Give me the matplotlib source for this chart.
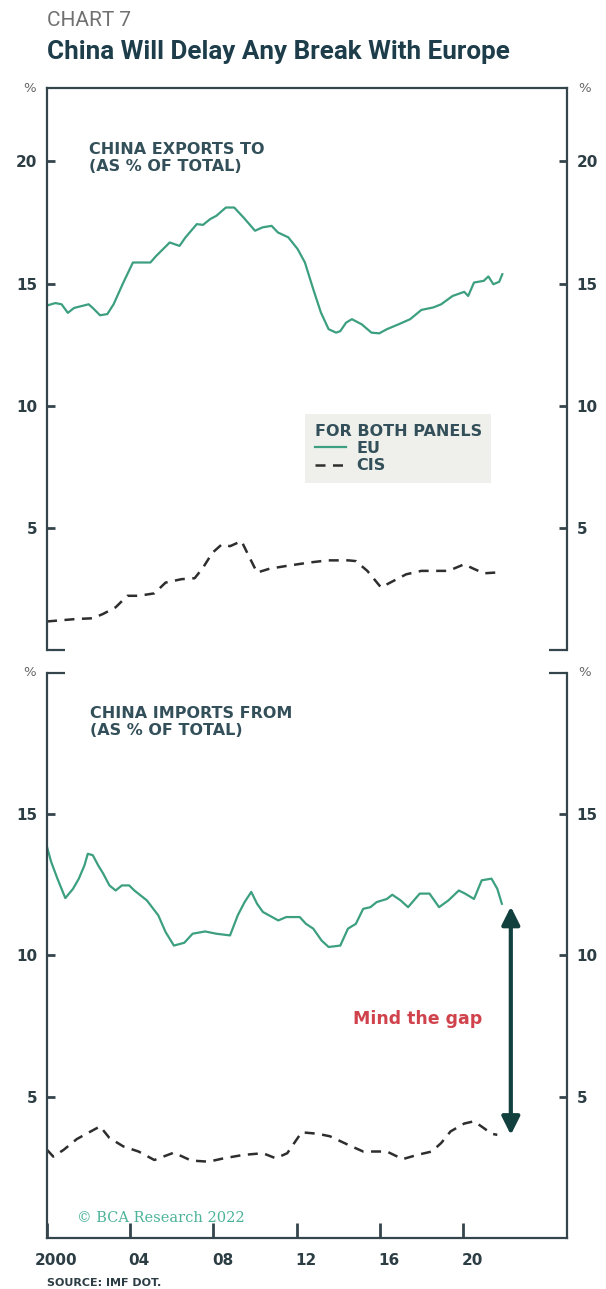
import matplotlib.pyplot as plt
from matplotlib.transforms import ScaledTranslation

# china exports to EU / CIS, % of total
exp_eu_year = [2000.0, 2000.4, 2000.7, 2001.0, 2001.3, 2002.0, 2002.2, 2002.55, 2002.9, 2003.2,
               2003.67, 2004.13, 2004.4, 2004.97, 2005.25, 2005.9, 2006.37, 2006.65, 2007.2, 2007.5,
               2007.85, 2008.14, 2008.6, 2009.0, 2009.45, 2010.0, 2010.37, 2010.8, 2011.1, 2011.6,
               2012.05, 2012.4, 2012.8, 2013.17, 2013.54, 2013.9, 2014.1, 2014.38, 2014.66, 2015.13,
               2015.6, 2015.97, 2016.34, 2016.9, 2017.46, 2018.0, 2018.57, 2018.95, 2019.5, 2020.06,
               2020.25, 2020.53, 2021.0, 2021.22, 2021.46, 2021.74, 2021.89]
exp_eu = [14.1, 14.2, 14.15, 13.8, 14.0, 14.15, 14.0, 13.7, 13.75, 14.15,
          15.04, 15.86, 15.86, 15.86, 16.13, 16.68, 16.54, 16.88, 17.43, 17.4,
          17.64, 17.77, 18.11, 18.11, 17.7, 17.16, 17.3, 17.36, 17.09, 16.89,
          16.41, 15.86, 14.77, 13.81, 13.13, 12.99, 13.05, 13.4, 13.54, 13.33,
          12.99, 12.96, 13.13, 13.33, 13.54, 13.92, 14.02, 14.15, 14.49, 14.66,
          14.49, 15.04, 15.11, 15.29, 14.97, 15.07, 15.38]

exp_cis_year = [2000.0, 2001.4, 2002.2, 2002.7, 2003.3, 2003.86, 2004.4, 2005.16, 2005.7, 2006.46,
                2007.1, 2007.5, 2007.95, 2008.4, 2008.8, 2009.35, 2009.7, 2010.1, 2010.7, 2011.5,
                2012.6, 2013.5, 2014.5, 2014.85, 2015.4, 2016.06, 2016.5, 2017.27, 2018.0, 2019.3,
                2020.06, 2020.4, 2021.0, 2021.55]
exp_cis = [1.17, 1.27, 1.3, 1.48, 1.75, 2.22, 2.22, 2.32, 2.76, 2.9,
           2.94, 3.37, 3.98, 4.32, 4.25, 4.46, 3.85, 3.17, 3.33, 3.44,
           3.58, 3.67, 3.67, 3.64, 3.24, 2.56, 2.76, 3.1, 3.24, 3.24,
           3.51, 3.37, 3.14, 3.17]

# china imports from EU / CIS, % of total
imp_eu_year = [2000.0, 2000.2, 2000.5, 2000.88, 2001.25, 2001.53, 2001.8, 2001.96, 2002.2, 2002.46,
               2002.7, 2003.0, 2003.3, 2003.6, 2003.95, 2004.2, 2004.8, 2005.35, 2005.7, 2006.1,
               2006.6, 2007.0, 2007.6, 2008.14, 2008.8, 2009.17, 2009.5, 2009.82, 2010.1, 2010.38,
               2011.12, 2011.5, 2012.15, 2012.45, 2012.8, 2013.2, 2013.54, 2014.1, 2014.47, 2014.85,
               2015.2, 2015.55, 2015.85, 2016.34, 2016.6, 2017.0, 2017.36, 2017.92, 2018.39, 2018.85,
               2019.3, 2019.8, 2020.1, 2020.53, 2020.9, 2021.37, 2021.65, 2021.87]
imp_eu = [13.84, 13.31, 12.72, 12.03, 12.36, 12.72, 13.19, 13.6, 13.55, 13.19,
          12.9, 12.48, 12.3, 12.48, 12.48, 12.3, 11.95, 11.42, 10.83, 10.35,
          10.45, 10.77, 10.85, 10.77, 10.71, 11.42, 11.89, 12.25, 11.83, 11.54,
          11.24, 11.36, 11.36, 11.12, 10.95, 10.53, 10.3, 10.35, 10.95, 11.12,
          11.65, 11.71, 11.89, 12.0, 12.15, 11.95, 11.71, 12.19, 12.19, 11.71,
          11.95, 12.3, 12.19, 12.0, 12.66, 12.72, 12.36, 11.83]

imp_cis_year = [2000.0, 2000.3, 2000.8, 2001.43, 2002.1, 2002.55, 2003.0, 2003.67, 2004.4, 2005.16,
                2006.1, 2006.93, 2007.77, 2008.5, 2009.44, 2010.38, 2011.0, 2011.55, 2012.24, 2013.0,
                2013.6, 2014.47, 2015.2, 2016.34, 2017.1, 2017.8, 2018.5, 2018.95, 2019.4, 2020.06,
                2020.53, 2021.0, 2021.37, 2021.65]
imp_cis = [3.12, 2.88, 3.12, 3.5, 3.77, 3.95, 3.54, 3.24, 3.06, 2.76,
           3.02, 2.74, 2.7, 2.82, 2.94, 3.0, 2.82, 3.0, 3.74, 3.69,
           3.6, 3.3, 3.06, 3.06, 2.79, 2.94, 3.06, 3.36, 3.77, 4.05,
           4.13, 3.89, 3.69, 3.65]

x_ticks = [2000, 2004, 2008, 2012, 2016, 2020]
x_ticklabels = ['2000', '04', '08', '12', '16', '20']

GREEN = '#3c9f80'
DARK = '#2c3d44'
TITLE = '#1d3d4a'
SPINE = '#34454c'
LABEL = '#33505a'

fig = plt.figure(figsize=(6.06, 12.89), dpi=100)

fig.text(0.0776, 0.984, 'CHART 7', fontsize=15, color='#707070', va='center',
         family=['Liberation Sans Narrow', 'Roboto'])
fig.text(0.0776, 0.9595, 'China Will Delay Any Break With Europe', fontsize=18.7, fontweight='bold',
         color=TITLE, va='center', family=['Liberation Sans Narrow', 'Roboto'])

ax1 = fig.add_axes([0.0776, 0.4957, 0.858, 0.436])
ax2 = fig.add_axes([0.0776, 0.0396, 0.858, 0.4383])


def style(ax, ylim, yticks, corner_y, hide):
    ax.set_xlim(2000, 2025)
    ax.set_ylim(*ylim)
    ax.spines[hide].set_visible(False)
    for s in ax.spines.values():
        s.set_color(SPINE)
        s.set_linewidth(1.6)
    ax.set_yticks(yticks)
    ax.set_yticks([corner_y], minor=True)
    ax.tick_params(axis='y', which='major', direction='in', length=5.5, width=2, color=SPINE,
                   left=True, right=True, labelleft=True, labelright=True, pad=7,
                   labelsize=11, labelcolor=DARK)
    ax.tick_params(axis='y', which='minor', direction='in', length=13, width=1.6, color=SPINE,
                   left=True, right=True, labelleft=False, labelright=False)
    for lab in ax.get_yticklabels():
        lab.set_fontweight('bold')
    ax.text(-0.022, 1.0, '%', transform=ax.transAxes, ha='right', va='center',
            fontsize=9.5, color='#666666')
    ax.text(1.022, 1.0, '%', transform=ax.transAxes, ha='left', va='center',
            fontsize=9.5, color='#666666')


style(ax1, (0, 23), [5, 10, 15, 20], 0, 'bottom')
ax1.tick_params(axis='x', bottom=False, labelbottom=False)

style(ax2, (0, 20), [5, 10, 15], 20, 'top')
ax2.set_xticks(x_ticks)
ax2.set_xticklabels(x_ticklabels, fontweight='bold')
ax2.tick_params(axis='x', direction='in', length=11, width=2, color=SPINE, pad=11,
                labelsize=11, labelcolor=DARK)
shift = ScaledTranslation(0.09, 0, fig.dpi_scale_trans)
for lab in ax2.get_xticklabels():
    lab.set_transform(lab.get_transform() + shift)

eu_line, = ax1.plot(exp_eu_year, exp_eu, color=GREEN, lw=1.6, label='EU')
cis_line, = ax1.plot(exp_cis_year, exp_cis, color='#2e2e2e', lw=1.8, dashes=(4, 3), label='CIS')
ax2.plot(imp_eu_year, imp_eu, color=GREEN, lw=1.6)
ax2.plot(imp_cis_year, imp_cis, color='#2e2e2e', lw=1.8, dashes=(4, 3))

ax1.text(0.081, 0.875, 'CHINA EXPORTS TO\n(AS % OF TOTAL)', transform=ax1.transAxes,
         fontsize=11.5, fontweight='bold', color=LABEL, va='center', linespacing=1.2)
ax2.text(0.083, 0.913, 'CHINA IMPORTS FROM\n(AS % OF TOTAL)', transform=ax2.transAxes,
         fontsize=11.5, fontweight='bold', color=LABEL, va='center', linespacing=1.2)

leg = ax1.legend(handles=[eu_line, cis_line], title='FOR BOTH PANELS', loc='upper left',
                 bbox_to_anchor=(0.496, 0.42), borderaxespad=0, frameon=True,
                 facecolor='#efefeb', edgecolor='none', fancybox=False, framealpha=1,
                 fontsize=11.5, title_fontsize=11.5, handlelength=2.0, handletextpad=0.6,
                 labelspacing=0.15, borderpad=0.6, alignment='left')
leg.get_title().set_fontweight('bold')
leg.get_title().set_color(LABEL)
for t in leg.get_texts():
    t.set_fontweight('bold')
    t.set_color(LABEL)

# gap between EU and CIS import shares at the latest point
ax2.annotate('', xy=(2022.3, imp_eu[-1] - 0.1), xytext=(2022.3, imp_cis[-1]),
             arrowprops=dict(arrowstyle='<|-|>', color='#12403f', lw=3, mutation_scale=27,
                             shrinkA=0, shrinkB=0))
ax2.text(2017.8, 7.75, 'Mind the gap', color='#d0434c', fontsize=12.5, fontweight='semibold',
         ha='center', va='center')

ax2.text(0.058, 0.035, '\u00a9 BCA Research 2022', transform=ax2.transAxes, fontsize=10.5,
         color='#4db39a', family='DejaVu Serif', va='center')

fig.text(0.0776, 0.0048, 'SOURCE: IMF DOT.', fontsize=8, fontweight='bold', color=DARK, va='center')

fig.savefig('out.png', dpi=100)
